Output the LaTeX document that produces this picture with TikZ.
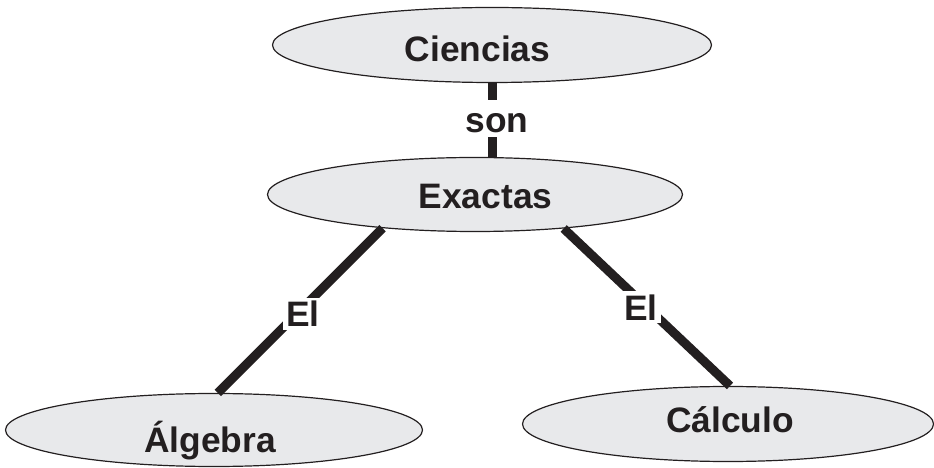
\documentclass[tikz,border=0pt]{standalone}
\usepackage{fontspec}
\setmainfont{Liberation Sans}
\usepackage{tikz}
\usetikzlibrary{shapes.geometric}
\definecolor{ink}{HTML}{231F20}
\definecolor{bubble}{HTML}{E8E9EB}

\begin{document}
\begin{tikzpicture}[x=1bp,y=-1bp,
        concept/.style={ellipse,draw=ink,fill=bubble,line width=1.2bp,inner sep=0pt},
        word/.style={anchor=base,text=ink,inner sep=0pt,font=\fontsize{35.5}{42}\selectfont\bfseries},
        link/.style={draw=ink,line width=9bp},
        tag/.style={fill=white,text=ink,inner sep=3bp,font=\fontsize{35.5}{42}\selectfont\bfseries}]
            \useasboundingbox (0,0) rectangle (934,468);

            \node[concept,minimum width=439bp,minimum height=75bp] (ciencias) at (492,45) {};
            \node[word] (cienciasT) at (477.5,62) {Ciencias};

            \node[concept,minimum width=415bp,minimum height=74bp] (exactas) at (475,194.5) {};
            \node[word] (exactasT) at (485.5,209) {Exactas};

            \node[concept,minimum width=417bp,minimum height=73bp] (algebra) at (214,430) {};
            \node[word] (algebraT) at (210,452) {Álgebra};

            \node[concept,minimum width=411bp,minimum height=75bp] (calculo) at (728,424) {};
            \node[word] (calculoT) at (730,432) {Cálculo};

            \draw[link] (ciencias.south) -- node[tag,pos=.5,xshift=5bp,yshift=1bp,inner ysep=4.5bp,text height=28bp,text depth=0pt] (son) {son} (ciencias.south |- exactas.north);
            \draw[link] (exactas.200) -- node[tag,pos=.52,xshift=6bp] (elA) {El} (algebra.84);
            \draw[link] (exactas.339) -- node[tag,pos=.5,xshift=-6bp] (elB) {El} (calculo.87);
        \end{tikzpicture}
\end{document}
